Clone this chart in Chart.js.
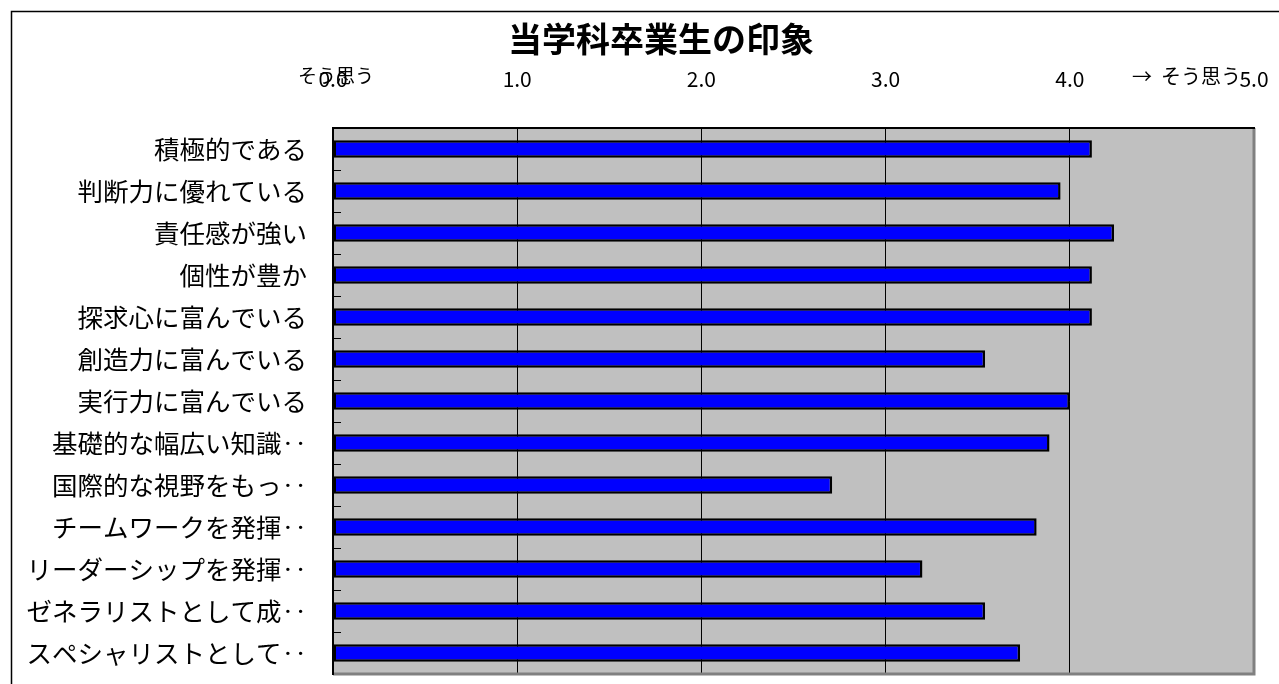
<!DOCTYPE html>
<html><head><meta charset="utf-8">
<script src="https://cdn.jsdelivr.net/npm/chart.js@4"></script>
<style>html,body{margin:0;padding:0;background:#fff}#wrap{width:1279px;height:684px}</style>
</head><body><div id="wrap"><canvas id="c" width="1279" height="684"></canvas></div>
<script>
const titleText = '当学科卒業生の印象';
const categories = ['積極的である','判断力に優れている','責任感が強い','個性が豊か','探求心に富んでいる','創造力に富んでいる','実行力に富んでいる','基礎的な幅広い知識‥','国際的な視野をもっ‥','チームワークを発揮‥','リーダーシップを発揮‥','ゼネラリストとして成‥','スペシャリストとして‥'];
const values = [4.12, 3.95, 4.24, 4.12, 4.12, 3.54, 4.00, 3.89, 2.71, 3.82, 3.20, 3.54, 3.73];
const axisMin = 0, axisMax = 5, axisStep = 1;
const leftNote = 'そう思う';
const rightNote = '→  そう思う';
const JP = '"Noto Sans CJK JP", "Noto Sans", sans-serif';

const decor = {
  id: 'decor',
  afterLayout(chart) {
    // the original chart object is wider than the picture; centre the title on it
    const t = chart.titleBlock;
    if (t) { t.left = 43; t.right = 1279; }
  },
  beforeDraw(chart) {
    const {ctx, chartArea: a} = chart;
    ctx.save();
    ctx.fillStyle = '#C0C0C0';
    ctx.fillRect(a.left, a.top, a.right - a.left, a.bottom - a.top);
    ctx.restore();
  },
  afterDatasetsDraw(chart) {
    const {ctx, chartArea: a} = chart;
    const ys = chart.scales.y;
    const band = ys.getPixelForValue(1) - ys.getPixelForValue(0);
    ctx.save();
    // inward category tick marks at band boundaries
    ctx.strokeStyle = '#000'; ctx.lineWidth = 1;
    for (let i = 1; i <= categories.length; i++) {
      const y = Math.round(ys.getPixelForValue(i - 1) + band / 2);
      ctx.beginPath(); ctx.moveTo(a.left, y + 0.5); ctx.lineTo(a.left + 8, y + 0.5); ctx.stroke();
    }
    // plot border: shadow right/bottom gray, top/left black
    ctx.strokeStyle = '#808080'; ctx.lineWidth = 3;
    ctx.beginPath(); ctx.moveTo(a.right, a.top); ctx.lineTo(a.right, a.bottom); ctx.lineTo(a.left, a.bottom); ctx.stroke();
    ctx.strokeStyle = '#000'; ctx.lineWidth = 2;
    ctx.beginPath(); ctx.moveTo(a.left, a.bottom + 1); ctx.lineTo(a.left, a.top); ctx.lineTo(a.right + 1, a.top); ctx.stroke();
    // outer frame
    ctx.lineWidth = 1.5;
    ctx.beginPath(); ctx.moveTo(11.5, 684); ctx.lineTo(11.5, 11.5); ctx.lineTo(1279, 11.5); ctx.stroke();
    // notes
    ctx.fillStyle = '#000';
    ctx.font = '19px ' + JP;
    ctx.textBaseline = 'alphabetic'; ctx.textAlign = 'left';
    ctx.fillText(leftNote, 298, 83);
    ctx.font = '20px ' + JP;
    ctx.fillText(rightNote, 1132, 84);
    ctx.restore();
  }
};

new Chart(document.getElementById('c'), {
  type: 'bar',
  data: {
    labels: categories,
    datasets: [{
      data: values,
      backgroundColor: '#0000FF',
      borderColor: '#000000',
      borderWidth: 2.5,
      borderSkipped: false,
      categoryPercentage: 1,
      barPercentage: 0.42
    }]
  },
  options: {
    indexAxis: 'y',
    responsive: false,
    animation: false,
    devicePixelRatio: 1,
    layout: { padding: { left: 0, right: 25, top: 0, bottom: 10 } },
    plugins: {
      legend: { display: false },
      tooltip: { enabled: false },
      title: {
        display: true, text: titleText, color: '#000',
        font: { family: JP, size: 34, weight: 'bold' },
        padding: { top: 19, bottom: 0 }
      }
    },
    scales: {
      x: {
        position: 'top', min: axisMin, max: axisMax,
        afterFit(s) { s.height = 128 - 19 - 34 * 1.2; s.paddingLeft = 0; s.paddingRight = 0; },
        ticks: {
          stepSize: axisStep, color: '#000', padding: 36,
          font: { family: JP, size: 21 },
          callback: v => Number(v).toFixed(1)
        },
        grid: { color: '#000', lineWidth: 1, drawTicks: false },
        border: { display: true, color: '#000', width: 2 }
      },
      y: {
        afterFit(s) { s.width = 333; s.paddingTop = 0; s.paddingBottom = 0; },
        ticks: { color: '#000', padding: 26, font: { family: JP, size: 25.5 }, autoSkip: false },
        grid: { display: false, drawTicks: false },
        border: { display: true, color: '#000', width: 2 }
      }
    }
  },
  plugins: [decor]
});
</script>
</body></html>
